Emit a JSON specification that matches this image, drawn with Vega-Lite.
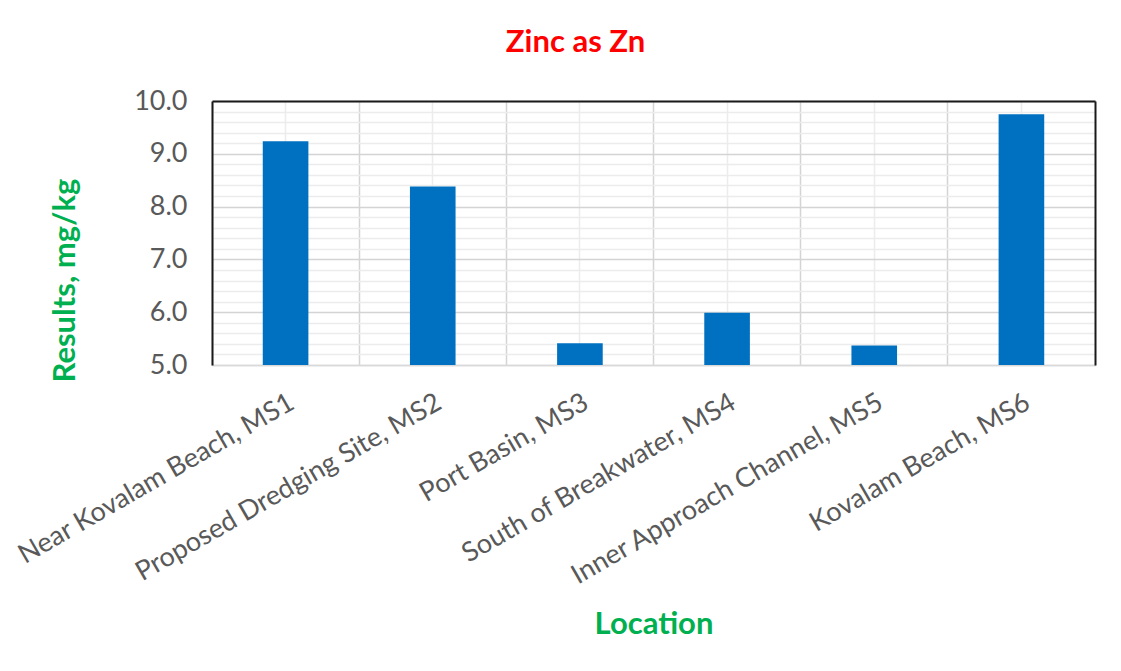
{
  "$schema": "https://vega.github.io/schema/vega-lite/v6.json",
  "width": 883,
  "height": 264,
  "autosize": {"type": "none"},
  "padding": {"left": 212, "top": 101, "right": 26, "bottom": 306},
  "background": "white",
  "config": {"view": {"stroke": null}, "font": "Lato"},
  "title": {"text": "Zinc as Zn", "color": "#FF0000", "fontSize": 31, "fontWeight": "bold", "font": "Lato", "anchor": "middle", "frame": "group", "dx": -78, "baseline": "alphabetic", "offset": 4},
  "data": {"values": [
    {"location": "Near Kovalam Beach, MS1", "value": 9.24},
    {"location": "Proposed Dredging Site, MS2", "value": 8.38},
    {"location": "Port Basin, MS3", "value": 5.41},
    {"location": "South of Breakwater, MS4", "value": 5.99},
    {"location": "Inner Approach Channel, MS5", "value": 5.37},
    {"location": "Kovalam Beach, MS6", "value": 9.75}
  ]},
  "layer": [
    {
      "mark": {"type": "bar", "opacity": 0, "clip": true},
      "encoding": {
        "x": {"field": "location", "type": "nominal", "sort": null, "scale": {"paddingInner": 0, "paddingOuter": 0},
          "axis": {"orient": "top", "bandPosition": 0, "labels": false, "ticks": false, "title": null, "domain": true, "domainColor": "#1a1a1a", "domainWidth": 2, "grid": true, "gridColor": "#d4d4d4", "gridWidth": 1.5}},
        "y": {"field": "value", "type": "quantitative", "scale": {"domain": [5, 10], "nice": false, "zero": false},
          "axis": {"orient": "right", "values": [5.2, 5.4, 5.6, 5.8, 6.2, 6.4, 6.6, 6.8, 7.2, 7.4, 7.6, 7.8, 8.2, 8.4, 8.6, 8.8, 9.2, 9.4, 9.6, 9.8], "labels": false, "ticks": false, "title": null, "domain": true, "domainColor": "#1a1a1a", "domainWidth": 2, "grid": true, "gridColor": "#ececec", "gridWidth": 1.5}}
      }
    },
    {
      "mark": {"type": "bar", "color": "#0070C0", "width": {"band": 0.31}, "clip": true},
      "encoding": {
        "x": {"field": "location", "type": "nominal", "sort": null,
          "axis": {"orient": "bottom", "title": "Location", "titleColor": "#00B050", "titleFontSize": 31, "titleFontWeight": "bold", "titleFont": "Lato", "titleBaseline": "alphabetic", "titleY": 268,
            "labelAngle": -30, "labelAlign": "right", "labelBaseline": "top", "labelPadding": 24, "labelFontSize": 27, "labelColor": "#595959", "labelLimit": 600, "labelOverlap": false, "labelBound": false,
            "ticks": false, "domain": true, "domainColor": "#d9d9d9", "domainWidth": 1.5, "grid": true, "gridColor": "#ececec", "gridWidth": 1.5}},
        "y": {"field": "value", "type": "quantitative",
          "axis": {"orient": "left", "values": [5, 6, 7, 8, 9, 10], "format": ".1f", "title": "Results, mg/kg", "titleColor": "#00B050", "titleFontSize": 31, "titleFontWeight": "bold", "titleFont": "Lato", "titleAngle": -90, "titleAlign": "center", "titleBaseline": "middle", "titleX": -147, "titleY": 179,
            "labelFontSize": 27, "labelColor": "#595959", "labelPadding": 25, "labelBaseline": "middle",
            "ticks": false, "domain": true, "domainColor": "#1a1a1a", "domainWidth": 2, "grid": true, "gridColor": "#d4d4d4", "gridWidth": 1.5}}
      }
    }
  ],
  "resolve": {"axis": {"x": "independent", "y": "independent"}}
}
